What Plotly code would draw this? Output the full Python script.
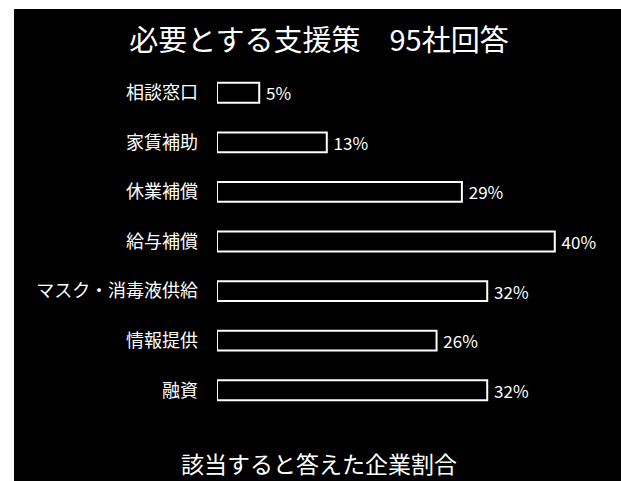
import plotly.graph_objects as go

categories = ["相談窓口", "家賃補助", "休業補償", "給与補償", "マスク・消毒液供給", "情報提供", "融資"]
values = [5, 13, 29, 40, 32, 26, 32]
title_text = "必要とする支援策　95社回答"
x_title = "該当すると答えた企業割合"

W, H = 621, 481
L, R, T, B = 217, 24, 68, 66
pw = W - L - R
ph = H - T - B

def px_x(x):
    return (x - L) / pw

def px_y(y):
    return (H - B - y) / ph

font = "Noto Sans CJK JP"

fig = go.Figure()
fig.add_trace(go.Bar(
    y=categories, x=values, orientation="h",
    marker=dict(color="black", line=dict(color="white", width=2)),
    width=0.4,
    text=[f" {v}%" for v in values],
    textposition="outside",
    constraintext="none",
    textfont=dict(color="white", size=17, family=font),
    cliponaxis=False,
))

fig.add_shape(type="rect", xref="paper", yref="paper",
              x0=px_x(14), x1=px_x(W + 5), y0=px_y(H + 5), y1=px_y(9),
              fillcolor="black", line=dict(width=0), layer="below")

fig.add_annotation(text=x_title, xref="paper", yref="paper",
                   x=px_x(319), y=px_y(463), xanchor="center", yanchor="middle",
                   showarrow=False, font=dict(color="white", size=23, family=font))

fig.update_layout(
    width=W, height=H,
    margin=dict(l=L, r=R, t=T, b=B),
    paper_bgcolor="white",
    plot_bgcolor="rgba(0,0,0,0)",
    showlegend=False,
    title=dict(text=title_text, x=319 / W, xanchor="center",
               y=1 - 40.5 / H, yanchor="middle",
               font=dict(color="white", size=29, family=font)),
    xaxis=dict(range=[0, 45], showticklabels=False, showgrid=False,
               zeroline=False, showline=False, ticks=""),
    yaxis=dict(autorange="reversed", showgrid=False, zeroline=False,
               showline=False, ticks="", ticklabelstandoff=18,
               tickfont=dict(color="white", size=18, family=font)),
)

fig.write_html("out.html", config={"displayModeBar": False},
               post_script="document.body.style.margin='0';document.body.style.overflow='hidden';")
